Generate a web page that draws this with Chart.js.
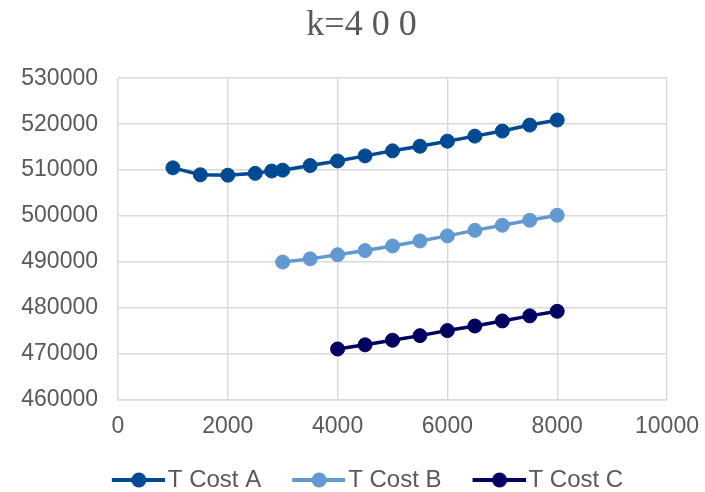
<!DOCTYPE html>
<html>
<head>
<meta charset="utf-8">
<script src="https://cdn.jsdelivr.net/npm/chart.js@4/dist/chart.umd.min.js"></script>
<style>
  html, body { margin: 0; padding: 0; background: #ffffff; }
  #wrap { width: 705px; height: 492px; position: relative; }
</style>
</head>
<body>
<div id="wrap"><canvas id="c" width="705" height="492"></canvas></div>
<script>
// Order quantity (x) against total cost for three cost variants
const qtyA = [1000, 1500, 2000, 2500, 2800, 3000, 3500, 4000, 4500, 5000, 5500, 6000, 6500, 7000, 7500, 8000];
const costA = [510500, 509000, 508900, 509300, 509800, 510000, 511000, 512000, 513100, 514200, 515200, 516300, 517400, 518500, 519800, 520900];

const qtyB = [3000, 3500, 4000, 4500, 5000, 5500, 6000, 6500, 7000, 7500, 8000];
const costB = [490000, 490700, 491600, 492500, 493500, 494600, 495700, 496900, 498000, 499100, 500200];

const qtyC = [4000, 4500, 5000, 5500, 6000, 6500, 7000, 7500, 8000];
const costC = [471100, 472000, 473000, 474000, 475100, 476100, 477200, 478300, 479300];

const seriesNames = ['T Cost A', 'T Cost B', 'T Cost C'];
const seriesColors = ['#004A94', '#6399D3', '#000060'];

const chartTitle = 'k=4 0 0';
const xTicks = [0, 2000, 4000, 6000, 8000, 10000];
const yTicks = [460000, 470000, 480000, 490000, 500000, 510000, 520000, 530000];

const toPoints = (xs, ys) => xs.map((x, i) => ({ x: x, y: ys[i] }));

// Legend swatch: a short line with a dot in its middle, placed at the
// right-hand end of a transparent canvas so it sits close to the label
const SWATCH_BOX = 70;
function legendSwatch(color) {
  const cv = document.createElement('canvas');
  cv.width = SWATCH_BOX + 18; cv.height = 20;
  const g = cv.getContext('2d');
  const x0 = cv.width - 53;
  g.strokeStyle = color;
  g.lineWidth = 4;
  g.beginPath();
  g.moveTo(x0, 10); g.lineTo(cv.width, 10);
  g.stroke();
  g.fillStyle = color;
  g.beginPath();
  g.arc(x0 + 27, 10, 7.5, 0, Math.PI * 2);
  g.fill();
  return cv;
}

const data = [toPoints(qtyA, costA), toPoints(qtyB, costB), toPoints(qtyC, costC)];

const datasets = data.map((pts, i) => ({
  label: seriesNames[i],
  data: pts,
  borderColor: seriesColors[i],
  backgroundColor: seriesColors[i],
  borderWidth: 3.5,
  pointRadius: 7,
  pointHoverRadius: 7,
  pointBorderWidth: 1,
  pointBackgroundColor: seriesColors[i],
  pointBorderColor: seriesColors[i],
  pointStyle: 'circle',
  legendStyle: legendSwatch(seriesColors[i]),
  tension: 0
}));

const tickFont = { family: '"Liberation Sans", Arial, sans-serif', size: 23 };
const gridColor = '#d9d9d9';

// Nudges the title and legend boxes after layout
const boxOffsets = {
  id: 'boxOffsets',
  afterLayout(chart) {
    const t = chart.titleBlock;
    if (t) { t.left += 23; t.right += 23; }
    const l = chart.legend;
    if (l) { l.left += 16; l.right += 16; l.top += 10; l.bottom += 10; }
  }
};

new Chart(document.getElementById('c'), {
  type: 'line',
  data: { datasets: datasets },
  plugins: [boxOffsets],
  options: {
    responsive: false,
    animation: false,
    devicePixelRatio: 1,
    layout: { padding: { left: 10, right: 38, top: 4, bottom: 0 } },
    plugins: {
      title: {
        display: true,
        text: chartTitle,
        color: '#595959',
        font: { family: '"Liberation Serif", "Times New Roman", serif', size: 36, weight: 'normal' },
        padding: { top: 0, bottom: 31 }
      },
      legend: {
        position: 'bottom',
        labels: {
          usePointStyle: true,
          pointStyleWidth: SWATCH_BOX,
          boxHeight: 20,
          padding: 5,
          color: '#595959',
          font: { family: '"Liberation Sans", Arial, sans-serif', size: 24 },
          generateLabels: (chart) => chart.data.datasets.map((d, i) => ({
            text: d.label,
            fillStyle: d.backgroundColor,
            strokeStyle: d.borderColor,
            lineWidth: 0,
            pointStyle: d.legendStyle,
            fontColor: '#595959',
            hidden: !chart.isDatasetVisible(i),
            datasetIndex: i
          }))
        }
      },
      tooltip: { enabled: false }
    },
    scales: {
      x: {
        type: 'linear',
        min: xTicks[0],
        max: xTicks[xTicks.length - 1],
        afterBuildTicks: (s) => { s.ticks = xTicks.map(v => ({ value: v })); },
        ticks: { color: '#595959', font: tickFont, padding: 13, maxRotation: 0,
                 callback: (v) => String(v) },
        grid: { color: gridColor, lineWidth: 1.4, drawTicks: false },
        border: { color: gridColor, width: 1.4 },
        afterFit: (s) => { s.height = 53; s.paddingLeft = 0; s.paddingRight = 0; }
      },
      y: {
        type: 'linear',
        min: yTicks[0],
        max: yTicks[yTicks.length - 1],
        afterBuildTicks: (s) => { s.ticks = yTicks.map(v => ({ value: v })); },
        ticks: { color: '#595959', font: tickFont, padding: 20,
                 callback: (v) => String(v) },
        grid: { color: gridColor, lineWidth: 1.4, drawTicks: false },
        border: { display: false },
        afterFit: (s) => { s.width = 108; s.paddingTop = 0; s.paddingBottom = 0; }
      }
    }
  }
});
</script>
</body>
</html>
